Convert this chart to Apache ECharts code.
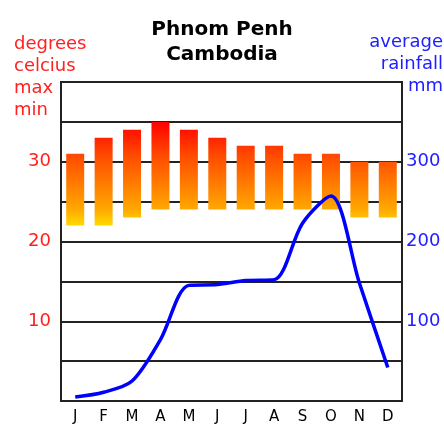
<!DOCTYPE html>
<html>
<head>
<meta charset="utf-8">
<script src="https://cdn.jsdelivr.net/npm/echarts@6/dist/echarts.min.js"></script>
<style>
  html, body { margin: 0; padding: 0; background: #fff; }
  #main { width: 444px; height: 425px; }
</style>
</head>
<body>
<div id="main"></div>
<script>
var months = ['J', 'F', 'M', 'A', 'M', 'J', 'J', 'A', 'S', 'O', 'N', 'D'];
var tempMax = [31, 33, 34, 35, 34, 33, 32, 32, 31, 31, 30, 30];
var tempMin = [22, 22, 23, 24, 24, 24, 24, 24, 24, 24, 23, 23];
var rainfall = [5, 11, 25, 77, 145, 146, 151, 152, 223, 257, 148, 42];
var rainTitle = ['average', 'rainfall', 'mm'];

var myChart = echarts.init(document.getElementById('main'));

var font = 'DejaVu Sans';
var red = '#ff2020';
var blue = '#2020ff';

// colour depends on the temperature, not on the bar
var barGradient = new echarts.graphic.LinearGradient(0, 122, 0, 226, [
    { offset: 0, color: '#ff0000' },
    { offset: 0.31, color: '#ff4800' },
    { offset: 0.85, color: '#ffaa00' },
    { offset: 1, color: '#ffdc00' }
], true);

var option = {
    animation: false,
    title: [
        {
            text: 'Phnom Penh\nCambodia',
            left: 'center',
            top: 12,
            textStyle: { fontFamily: font, fontSize: 20, fontWeight: 'bold', color: '#000', lineHeight: 25 }
        },
        {
            text: 'degrees\ncelcius\nmax\nmin',
            left: 9,
            top: 28,
            textStyle: { fontFamily: font, fontSize: 18, fontWeight: 'normal', color: red, lineHeight: 22 }
        }
    ],
    graphic: rainTitle.map(function (t, i) {
        return {
            type: 'text',
            right: 1,
            top: 33 + i * 22,
            style: { text: t, fill: blue, font: '18px "DejaVu Sans"' }
        };
    }),
    grid: {
        left: 61,
        right: 42,
        top: 82,
        bottom: 23,
        show: true,
        borderColor: '#222',
        borderWidth: 2
    },
    xAxis: {
        type: 'category',
        data: months,
        axisTick: { show: false },
        axisLine: { lineStyle: { color: '#222', width: 2 } },
        axisLabel: { color: '#000', fontFamily: font, fontSize: 15, margin: 9 }
    },
    yAxis: [
        {
            type: 'value',
            min: 0,
            max: 40,
            interval: 5,
            axisLine: { show: true, lineStyle: { color: '#222', width: 2 } },
            axisTick: { show: false },
            axisLabel: {
                color: red,
                fontFamily: font,
                fontSize: 18,
                margin: 10,
                formatter: function (v) {
                    return (v % 10 === 0 && v > 0 && v < 40) ? v : '';
                }
            },
            splitLine: { lineStyle: { color: '#222', width: 2 } }
        },
        {
            type: 'value',
            min: 0,
            max: 400,
            interval: 50,
            axisLine: { show: true, lineStyle: { color: '#222', width: 2 } },
            axisTick: { show: false },
            axisLabel: {
                color: blue,
                fontFamily: font,
                fontSize: 18,
                margin: 4,
                formatter: function (v) {
                    return (v % 100 === 0 && v > 0 && v < 400) ? v : '';
                }
            },
            splitLine: { show: false }
        }
    ],
    series: [
        {
            name: 'base',
            type: 'bar',
            stack: 'temp',
            barWidth: 18,
            itemStyle: { color: 'transparent' },
            data: tempMin,
            z: 2
        },
        {
            name: 'temperature',
            type: 'bar',
            stack: 'temp',
            barWidth: 18,
            itemStyle: { color: barGradient },
            data: tempMax.map(function (v, i) { return v - tempMin[i]; }),
            z: 2
        },
        {
            name: 'rainfall',
            type: 'line',
            yAxisIndex: 1,
            data: rainfall,
            smooth: 0.3,
            symbol: 'none',
            lineStyle: { color: '#0000ff', width: 3.5 },
            z: 3
        }
    ]
};

myChart.setOption(option);
</script>
</body>
</html>
